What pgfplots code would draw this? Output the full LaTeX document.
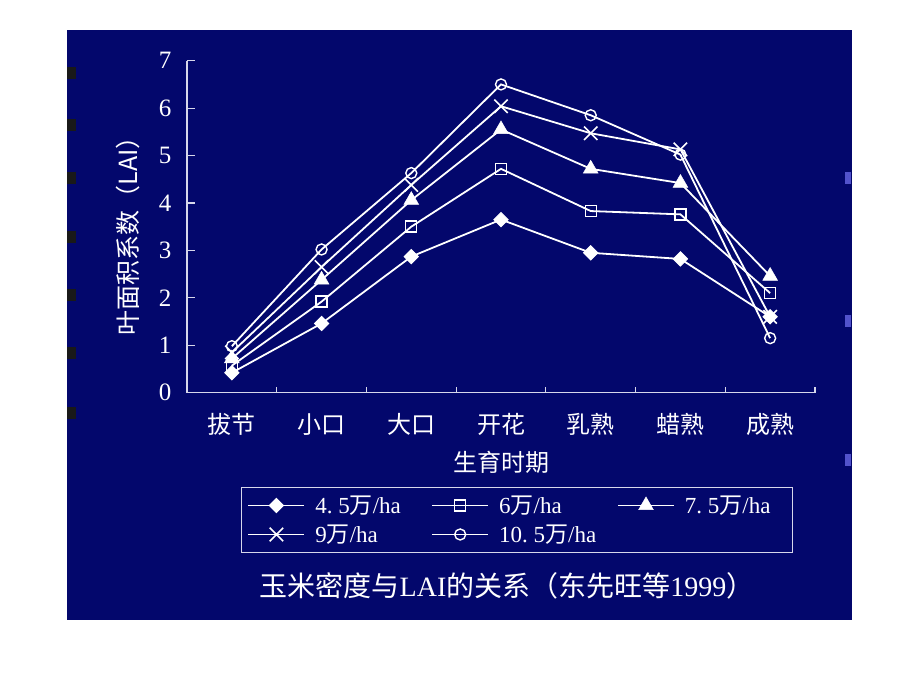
\documentclass[border=0pt]{standalone}
\usepackage{fontspec}
\setmainfont{Liberation Serif}
\newfontfamily\cjk{Noto Sans CJK SC}
\usepackage{pgfplots}
\pgfplotsset{compat=1.18}
\definecolor{bgblue}{RGB}{3,7,108}
\definecolor{axgray}{RGB}{215,215,235}
\begin{document}
\begin{tikzpicture}[x=1pt,y=1pt]
\path[use as bounding box, fill=white] (0,0) rectangle (920,690);
\fill[bgblue] (67,70) rectangle (852,660);
\foreach \yy in {73,125,178,237,295,353,413} {\fill[black!90] (67,690-\yy-6) rectangle (76,690-\yy+6);}
\foreach \yy in {178,321,460} {\fill[blue!60!white!80!black] (845,690-\yy-6) rectangle (851,690-\yy+6);}
\begin{axis}[
  at={(187pt,297.3pt)}, anchor=south west,
  scale only axis, width=628pt, height=332pt,
  xmin=-0.5, xmax=6.5, ymin=0, ymax=7,
  axis lines*=left,
  axis line style={axgray, line width=1.2pt},
  tick align=inside,
  xtick={0,...,6},
  xticklabels={{\cjk 拔节},{\cjk 小口},{\cjk 大口},{\cjk 开花},{\cjk 乳熟},{\cjk 蜡熟},{\cjk 成熟}},
  minor xtick={0.5,1.5,...,6.5},
  major x tick style={draw=none},
  minor x tick style={axgray, line width=1.2pt},
  minor tick length=6pt,
  ytick={0,...,7},
  major y tick style={axgray, line width=1.2pt},
  major tick length=8pt,
  tick label style={white},
  yticklabel style={font=\fontsize{25}{28}\selectfont, xshift=-12pt},
  xticklabel style={font=\fontsize{24}{27}\selectfont, yshift=-17pt},
  /pgf/number format/assume math mode=true,
  xlabel={\cjk 生育时期},
  xlabel style={white, font=\fontsize{24}{27}\selectfont, at={(axis description cs:0.501,-0.209)}, anchor=center},
  ylabel={\cjk 叶面积系数（LAI）},
  ylabel style={white, font=\fontsize{25}{28}\selectfont, at={(axis description cs:-0.094,0.49)}, anchor=center},
  every axis plot/.append style={white, line width=1.8pt},
  legend columns=3,
  legend style={at={(axis description cs:0.086,-0.284)}, anchor=north west,
    draw=axgray, line width=1pt, fill=none, text=white,
    font=\fontsize{23}{26}\selectfont, inner xsep=0pt, inner ysep=3.5pt,
    column sep=0pt, row sep=0pt,
    nodes={inner sep=0pt, anchor=west, minimum height=29pt}},
  legend image code/.code={\path (-6pt,0pt) (66pt,0pt); \draw[mark repeat=2,mark phase=2,#1] plot coordinates {(0pt,0pt)(28pt,0pt)(56pt,0pt)};},
]
\addplot[mark=square*, mark size=5pt, mark options={fill=white, rotate=45, line width=1pt}] coordinates {(0,0.42)(1,1.46)(2,2.87)(3,3.65)(4,2.95)(5,2.82)(6,1.60)};
\addlegendentry{\makebox[110pt][l]{4.\ 5{\cjk 万}/ha}}
\addplot[mark=square, mark size=5.5pt, mark options={line width=1.4pt}] coordinates {(0,0.57)(1,1.92)(2,3.50)(3,4.72)(4,3.83)(5,3.76)(6,2.10)};
\addlegendentry{\makebox[112pt][l]{6{\cjk 万}/ha}}
\addplot[mark=triangle*, mark size=8.5pt, mark options={fill=white, line width=0.5pt}] coordinates {(0,0.72)(1,2.38)(2,4.06)(3,5.55)(4,4.72)(5,4.42)(6,2.46)};
\addlegendentry{\makebox[108pt][l]{7.\ 5{\cjk 万}/ha}}
\addplot[mark=x, mark size=9.5pt, mark options={line width=1.6pt}] coordinates {(0,0.85)(1,2.65)(2,4.38)(3,6.04)(4,5.47)(5,5.13)(6,1.60)};
\addlegendentry{\makebox[110pt][l]{9{\cjk 万}/ha}}
\addplot[mark=o, mark size=5.5pt, mark options={line width=1.4pt}] coordinates {(0,0.98)(1,3.02)(2,4.63)(3,6.50)(4,5.85)(5,5.02)(6,1.15)};
\addlegendentry{\makebox[112pt][l]{10.\ 5{\cjk 万}/ha}}
\end{axis}
\node[white, font=\fontsize{28}{31}\selectfont] at (507,104) {{\cjk 玉米密度与}LAI{\cjk 的关系（东先旺等}1999{\cjk ）}};
\end{tikzpicture}
\end{document}
